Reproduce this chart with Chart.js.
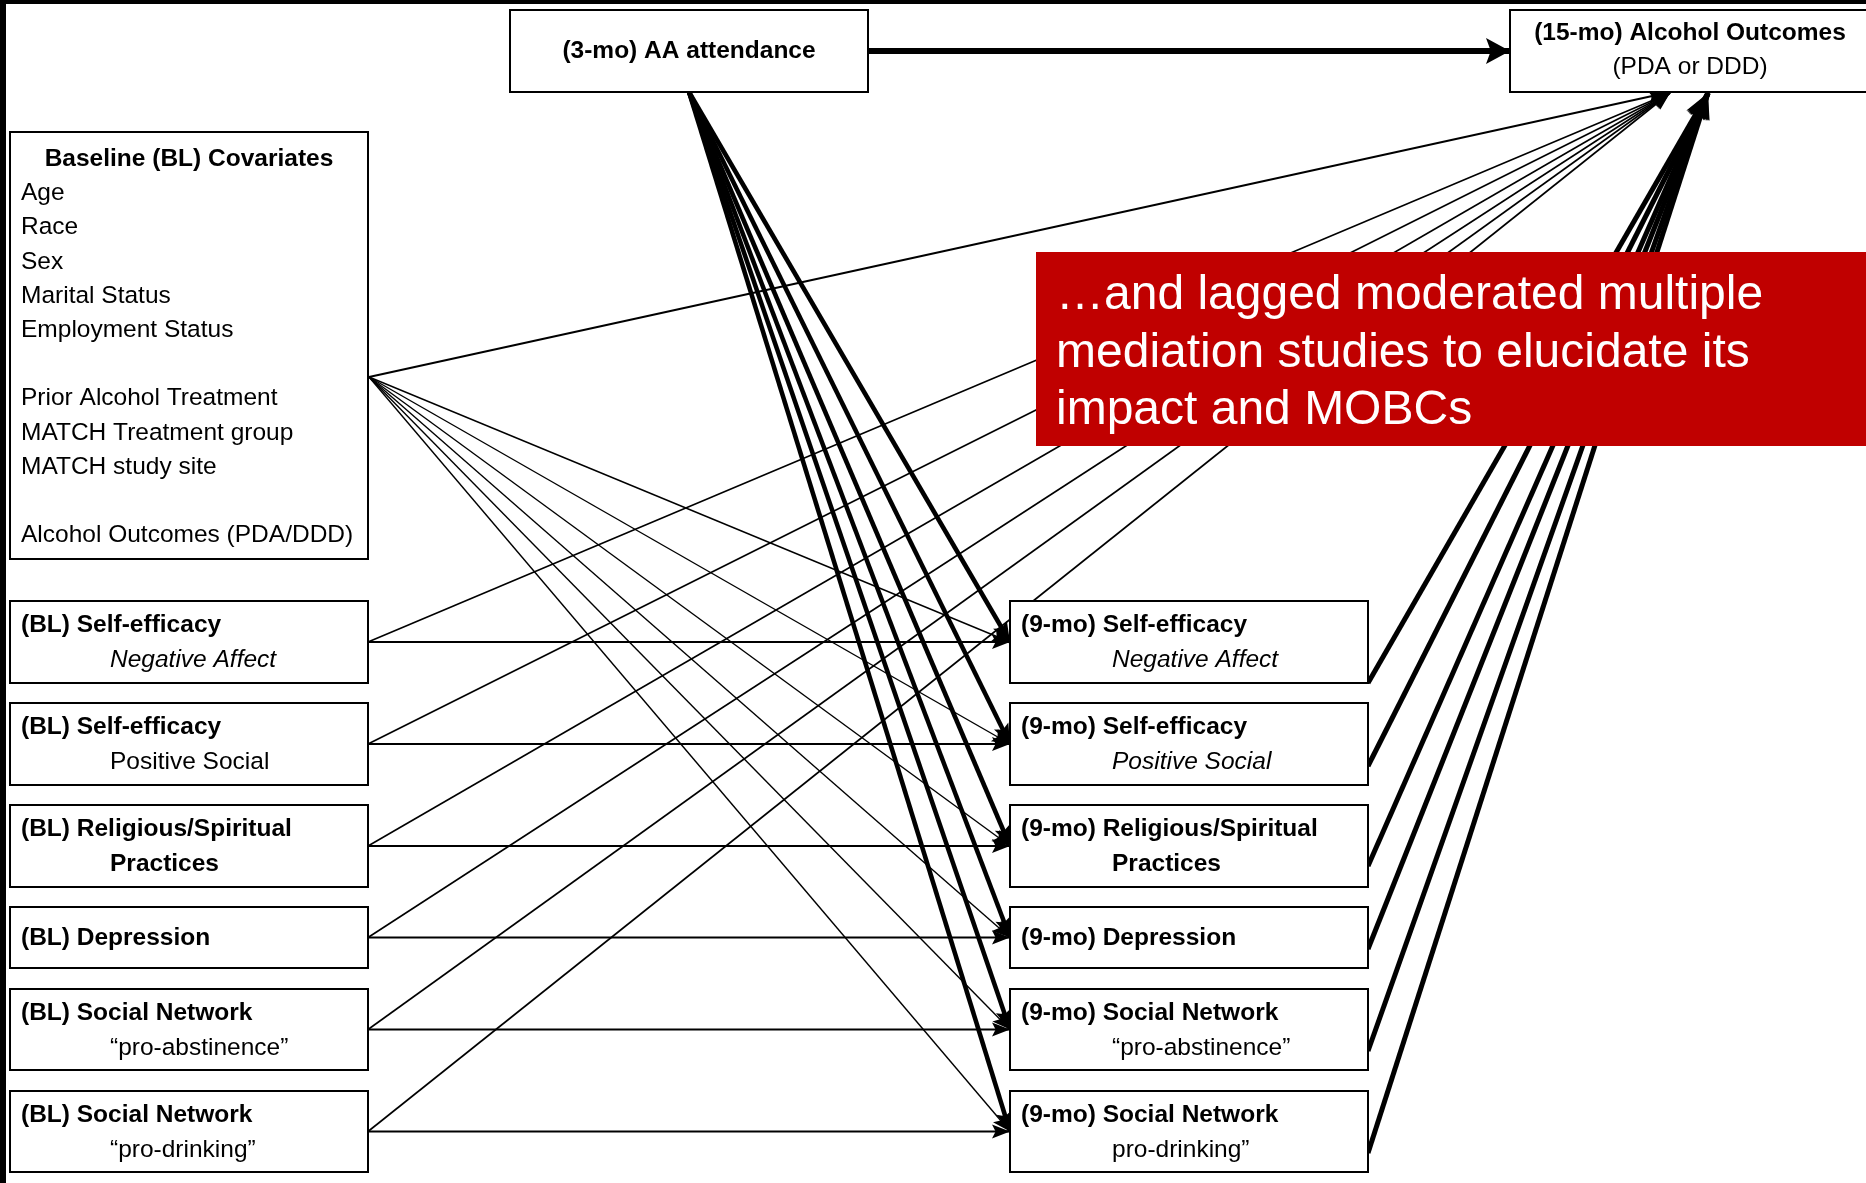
<!DOCTYPE html>
<html>
<head>
<meta charset="utf-8">
<script src="https://cdn.jsdelivr.net/npm/chart.js@4/dist/chart.umd.min.js"></script>
<style>
html, body { margin: 0; padding: 0; background: #fff; }
canvas { display: block; }
</style>
</head>
<body>
<canvas id="paths" width="1866" height="1183"></canvas>
<script>
const ctx = document.getElementById('paths').getContext('2d');

// ---- content ----
const aa_label = '(3-mo) AA attendance'
const outcome_label = ['(15-mo) Alcohol Outcomes', '(PDA or DDD)']
const covariate_title = 'Baseline (BL) Covariates'
const covariates = ['Age', 'Race', 'Sex', 'Marital Status', 'Employment Status', '',
  'Prior Alcohol Treatment', 'MATCH Treatment group', 'MATCH study site', '', 'Alcohol Outcomes (PDA/DDD)']
const constructs = ['Self-efficacy', 'Self-efficacy', 'Religious/Spiritual', 'Depression', 'Social Network', 'Social Network']
const bl_sub = ['Negative Affect', 'Positive Social', 'Practices', '', '\u201Cpro-abstinence\u201D', '\u201Cpro-drinking\u201D']
const mo_sub = ['Negative Affect', 'Positive Social', 'Practices', '', '\u201Cpro-abstinence\u201D', 'pro-drinking\u201D']
const bl_sub_style = ['italic', 'normal', 'bold', '', 'normal', 'normal']
const mo_sub_style = ['italic', 'italic', 'bold', '', 'normal', 'normal']
const callout = ['\u2026and lagged moderated multiple', 'mediation studies to elucidate its', 'impact and MOBCs']

// ---- layout (diagram units = pixels of the picture) ----
const W = 1866, H = 1183
const row_top = [601, 703, 805, 907, 989, 1091]
const row_h = [82, 82, 82, 61, 81, 81]
const exit_up = [0, 19, 21, 19, 19, 19]
const box_w = 358
const nodes = {
  aa: {x: 510, y: 10, w: 358, h: 82},
  out: {x: 1510, y: 10, w: 380, h: 82},
  base: {x: 10, y: 132, w: 358, h: 427},
}
row_top.forEach((t, i) => {
  nodes['bl' + i] = {x: 10, y: t, w: box_w, h: row_h[i]}
  nodes['mo' + i] = {x: 1010, y: t, w: box_w, h: row_h[i]}
})

const right_mid = n => ({x: n.x + n.w, y: n.y + n.h / 2})
const left_mid = n => ({x: n.x, y: n.y + n.h / 2})
const base_exit = {x: nodes.base.x + nodes.base.w + 1, y: 377}

function edge(a, b, width, head) {
  return {
    data: [a, b],
    showLine: true,
    borderColor: '#000',
    borderWidth: width,
    borderCapStyle: 'butt',
    pointRadius: 0,
    head: head,
  }
}

const datasets = []
datasets.push(edge(base_exit, {x: 1666, y: 93}, 2, [18, 7]))
for (let i = 0; i < 6; i++) {
  const bl = nodes['bl' + i], mo = nodes['mo' + i]
  datasets.push(edge(right_mid(bl), {x: 1670, y: 93}, 1.6, [18, 7]))
  datasets.push(edge(base_exit, left_mid(mo), 1.4, [18, 7]))
  datasets.push(edge(right_mid(bl), left_mid(mo), 2, [18, 7]))
}
for (let i = 0; i < 6; i++) {
  const mo = nodes['mo' + i]
  datasets.push(edge({x: nodes.aa.x + nodes.aa.w / 2, y: nodes.aa.y + nodes.aa.h}, left_mid(mo), 4.5, [20, 8]))
}
for (let i = 0; i < 6; i++) {
  const mo = nodes['mo' + i]
  datasets.push(edge({x: mo.x + mo.w, y: mo.y + mo.h - exit_up[i]}, {x: 1708, y: 93}, 5, [26, 10]))
}
datasets.push(edge(right_mid(nodes.aa), left_mid(nodes.out), 6, [24, 13]))

const FONT = '"Liberation Sans", Arial, sans-serif'

const diagram = {
  id: 'diagram',
  afterDatasetsDraw(chart) {
    const c = chart.ctx
    const sx = chart.scales.x, sy = chart.scales.y
    const px = v => sx.getPixelForValue(v)
    const py = v => sy.getPixelForValue(v)

    // arrow heads at the end of each path
    chart.data.datasets.forEach((ds, i) => {
      if (!ds.head) return
      const pts = chart.getDatasetMeta(i).data
      const a = pts[0], b = pts[pts.length - 1]
      const ang = Math.atan2(b.y - a.y, b.x - a.x)
      const [len, half] = ds.head
      c.save()
      c.translate(b.x, b.y)
      c.rotate(ang)
      c.beginPath()
      c.moveTo(0, 0)
      c.lineTo(-len, -half)
      c.lineTo(-len * 0.8, 0)
      c.lineTo(-len, half)
      c.closePath()
      c.fillStyle = '#000'
      c.fill()
      c.restore()
    })

    // boxes
    c.save()
    Object.values(nodes).forEach(n => {
      const x0 = px(n.x), y0 = py(n.y), x1 = px(n.x + n.w), y1 = py(n.y + n.h)
      c.fillStyle = '#fff'
      c.fillRect(x0, y0, x1 - x0, y1 - y0)
      c.strokeStyle = '#000'
      c.lineWidth = 2
      c.strokeRect(x0, y0, x1 - x0, y1 - y0)
    })
    c.restore()

    function text(s, x, y, weight, style, align, size, color) {
      c.save()
      c.font = `${style || 'normal'} ${weight || 'normal'} ${size || 24.5}px ${FONT}`
      c.fillStyle = color || '#000'
      c.textAlign = align || 'left'
      c.textBaseline = 'middle'
      c.fillText(s, px(x), py(y))
      c.restore()
    }

    text(aa_label, 689, 51, 'bold', 'normal', 'center')
    text(outcome_label[0], 1690, 33, 'bold', 'normal', 'center')
    text(outcome_label[1], 1690, 67, 'normal', 'normal', 'center')

    text(covariate_title, 189, 159, 'bold', 'normal', 'center')
    covariates.forEach((s, k) => { if (s) text(s, 21, 193.5 + k * 34.2) })

    for (let i = 0; i < 6; i++) {
      const t = row_top[i], h = row_h[i]
      const one = !bl_sub[i]
      const y1 = one ? t + h / 2 + 1 : t + 24
      text('(BL) ' + constructs[i], 21, y1, 'bold')
      text('(9-mo) ' + constructs[i], 1021, y1, 'bold')
      if (!one) {
        const w1 = bl_sub_style[i] === 'bold' ? 'bold' : 'normal'
        const s1 = bl_sub_style[i] === 'italic' ? 'italic' : 'normal'
        text(bl_sub[i], 110, t + 59, w1, s1)
        const w2 = mo_sub_style[i] === 'bold' ? 'bold' : 'normal'
        const s2 = mo_sub_style[i] === 'italic' ? 'italic' : 'normal'
        text(mo_sub[i], 1112, t + 59, w2, s2)
      }
    }

    // red call-out
    c.save()
    c.fillStyle = '#C00000'
    c.fillRect(px(1036), py(252), px(W) - px(1036), py(446) - py(252))
    c.restore()
    callout.forEach((s, k) => text(s, 1056, 296 + k * 57.5, 'normal', 'normal', 'left', 48, '#fff'))

    // frame on top and left
    c.save()
    c.fillStyle = '#000'
    c.fillRect(0, 0, px(W), py(4))
    c.fillRect(0, 0, px(6), py(H))
    c.restore()
  }
}

const chart = new Chart(ctx, {
  type: 'scatter',
  data: { datasets: datasets },
  options: {
    responsive: false,
    animation: false,
    events: [],
    layout: { padding: 0 },
    plugins: {
      legend: { display: false },
      tooltip: { enabled: false },
    },
    scales: {
      x: { type: 'linear', min: 0, max: W, display: false },
      y: { type: 'linear', min: 0, max: H, reverse: true, display: false },
    },
  },
  plugins: [diagram],
});
</script>
</body>
</html>
